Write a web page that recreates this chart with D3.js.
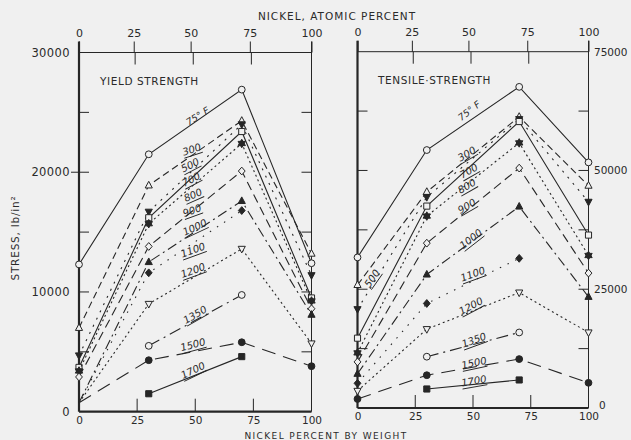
<!DOCTYPE html>
<html>
<head>
<meta charset="utf-8">
<script src="https://cdn.jsdelivr.net/npm/d3@7/dist/d3.min.js"></script>
<style>
  html, body { margin: 0; padding: 0; background: #f0f0f0; }
  svg { display: block; }
  text { font-family: "DejaVu Sans", sans-serif; fill: #2a2a2a; }
</style>
</head>
<body>
<svg id="chart" width="631" height="440"></svg>
<script>
// Copper–nickel alloys: yield and tensile strength vs. nickel content, one curve per test temperature (°F)
const nickelWeight = [0, 30, 70, 100];
const temperatures = ["75° F", "300", "500", "700", "800", "900", "1000", "1100", "1200", "1350", "1500", "1700"];

// Yield strength, lb/in², at 0, 30, 70, 100 % Ni (null = not measured)
const yieldStress = [
  [12300, 21500, 26900, 12400],
  [7000, 18900, 24300, 13200],
  [4700, 16700, 24000, 11400],
  [3700, 16200, 23400, 9500],
  [3400, 15700, 22400, 9250],
  [2900, 13800, 20100, 8600],
  [750, 12500, 17600, 8100],
  [750, 11600, 16800, null],
  [750, 9000, 13600, 5700],
  [null, 5500, 9750, null],
  [750, 4300, 5800, 3800],
  [null, 1500, 4600, null]
];
// Curves that start from the common pure-copper point without a symbol
const yieldUnmarkedStart = ["1000", "1100", "1200", "1500"];

// Tensile strength, lb/in², at 0, 30, 70, 100 % Ni
const tensileStress = [
  [31700, 54300, 67600, 51700],
  [25900, 45500, 61300, 46800],
  [20800, 44400, 60800, 43400],
  [14700, 42500, 60300, 36400],
  [11600, 40400, 55800, 32100],
  [9700, 34700, 50500, 28400],
  [7200, 28100, 42400, 23400],
  [5200, 22000, 31500, null],
  [3600, 16600, 24300, 15900],
  [null, 10800, 15900, null],
  [1900, 6900, 10300, 5300],
  [null, 4000, 5900, null]
];

const weightTicks = [0, 25, 50, 75, 100];
const atomicTicks = [0, 25, 50, 75, 100];
const yieldTickLabels = [0, 10000, 20000, 30000];
const tensileTickLabels = [0, 25000, 50000, 75000];

// ---- drawing styles per temperature ----
const markerShape = ["circle", "triUp", "triDown", "square", "star", "diamond", "triUp", "diamond", "triDown", "circle", "circle", "square"];
const markerFilled = [false, false, true, false, true, false, true, true, false, false, true, true];
const dashStyle = ["", "7,4", "2,6", "", "2,3", "9,5", "10,4,2,4", "1.5,7", "2,3", "12,5,2,5", "14,8", ""];

// label placement (nickel wt %, stress, rotation)
const yieldLabelSpots = [
  [51, 24700, -32], [48.5, 21900, -18], [47.8, 20600, -28], [48.2, 19400, -28],
  [49, 18100, -24], [48.6, 16800, -20], [49.8, 15400, -25], [49, 13500, -20],
  [49, 11800, -20], [49.9, 8100, -30], [49, 5600, -15], [49, 3450, -26]
];
const tensileLabelSpots = [
  [48.3, 62600, -38], [47.3, 53500, -30], [6.3, 27300, -55], [48.2, 49900, -30],
  [47.3, 46700, -30], [47.3, 42500, -30], [49.1, 35600, -38], [49.9, 28200, -20],
  [49.1, 21500, -28], [50.4, 14300, -20], [50.4, 9500, -12], [50.4, 5700, -10]
];

const ink = "#262626";
const paper = "#f0f0f0";
const svg = d3.select("#chart");

// atomic % Ni -> weight % Ni (Cu 63.55, Ni 58.69)
function atomicToWeight(a) {
  const ni = a * 58.69, cu = (100 - a) * 63.55;
  return ni + cu === 0 ? 0 : 100 * ni / (ni + cu);
}

function markerPath(shape, r) {
  const p = d3.path();
  if (shape === "circle") { p.arc(0, 0, r, 0, 2 * Math.PI); }
  else if (shape === "triUp") { p.moveTo(0, -r * 1.2); p.lineTo(r * 1.05, r * 0.75); p.lineTo(-r * 1.05, r * 0.75); p.closePath(); }
  else if (shape === "triDown") { p.moveTo(0, r * 1.2); p.lineTo(r * 1.05, -r * 0.75); p.lineTo(-r * 1.05, -r * 0.75); p.closePath(); }
  else if (shape === "square") { const s = r * 0.9; p.rect(-s, -s, 2 * s, 2 * s); }
  else if (shape === "diamond") { p.moveTo(0, -r * 1.15); p.lineTo(r, 0); p.lineTo(0, r * 1.15); p.lineTo(-r, 0); p.closePath(); }
  else if (shape === "star") {
    const R = r * 1.25;
    for (let k = 0; k < 2; k++) {
      for (let i = 0; i < 3; i++) {
        const a = -Math.PI / 2 + k * Math.PI + i * 2 * Math.PI / 3;
        const x = R * Math.cos(a), y = R * Math.sin(a);
        if (i === 0) p.moveTo(x, y); else p.lineTo(x, y);
      }
      p.closePath();
    }
  }
  return p.toString();
}

function drawPanel(opt) {
  const { x, y, data, labelSpots, title, titleX, tickStep, unmarked } = opt;
  const g = svg.append("g");
  const [x0, x1] = x.range();
  const [yb, yt] = y.range();

  // frame
  g.append("line").attr("x1", x0).attr("x2", x0).attr("y1", yt - 11).attr("y2", yb).attr("stroke", ink).attr("stroke-width", 2.2);
  g.append("line").attr("x1", x0).attr("x2", x1).attr("y1", yb).attr("y2", yb).attr("stroke", ink).attr("stroke-width", 2.2);
  g.append("line").attr("x1", x0).attr("x2", x1).attr("y1", yt).attr("y2", yt).attr("stroke", ink).attr("stroke-width", 1);
  g.append("line").attr("x1", x1).attr("x2", x1).attr("y1", yt - 11).attr("y2", yb).attr("stroke", ink).attr("stroke-width", 1);

  // bottom axis (weight %), ticks pointing inward
  const bottom = g.append("g").attr("transform", `translate(0,${yb})`)
    .call(d3.axisBottom(x).tickValues(weightTicks).tickSize(0).tickPadding(5).tickFormat(d3.format("d")));
  bottom.select(".domain").remove();
  bottom.selectAll("text").attr("font-size", 10.5).attr("fill", ink);
  g.selectAll(".wtick").data(weightTicks.slice(1, 4)).join("line")
    .attr("x1", d => x(d)).attr("x2", d => x(d)).attr("y1", yb).attr("y2", yb - 13)
    .attr("stroke", ink).attr("stroke-width", 1);

  // top axis: atomic % labels with outward ticks, weight % inward ticks
  const top = g.append("g").attr("transform", `translate(0,${yt})`)
    .call(d3.axisTop(x).tickValues(atomicTicks.map(atomicToWeight)).tickSize(11).tickPadding(5)
      .tickFormat((d, i) => atomicTicks[i]));
  top.select(".domain").remove();
  top.selectAll("line").attr("stroke", ink);
  top.selectAll("text").attr("font-size", 11).attr("fill", ink);
  g.selectAll(".ttick").data(weightTicks.slice(1, 4)).join("line")
    .attr("x1", d => x(d) - 2).attr("x2", d => x(d) - 2).attr("y1", yt).attr("y2", yt + 12)
    .attr("stroke", ink).attr("stroke-width", 1);

  // stress ticks on both sides, pointing inward
  const yTicks = d3.range(tickStep, y.domain()[1], tickStep);
  g.selectAll(".ltick").data(yTicks).join("line")
    .attr("x1", x0).attr("x2", x0 + 10).attr("y1", d => y(d)).attr("y2", d => y(d))
    .attr("stroke", ink).attr("stroke-width", 1);
  g.selectAll(".rtick").data(yTicks).join("line")
    .attr("x1", x1 - 10).attr("x2", x1).attr("y1", d => y(d)).attr("y2", d => y(d))
    .attr("stroke", ink).attr("stroke-width", 1);

  g.append("text").attr("x", titleX).attr("y", yt + 32).attr("font-size", 10.5)
    .attr("letter-spacing", 0.6).attr("fill", ink).text(title);

  // curves
  const line = d3.line().defined(d => d.v !== null).x(d => x(d.n)).y(d => y(d.v));
  data.forEach((row, s) => {
    const pts = nickelWeight.map((n, i) => ({ n, v: row[i] }));
    g.append("path").attr("d", line(pts)).attr("fill", "none").attr("stroke", ink)
      .attr("stroke-width", 1.1).attr("stroke-dasharray", dashStyle[s] || null);
    const marked = pts.filter((d, i) => d.v !== null && !(i === 0 && unmarked.includes(temperatures[s])));
    g.selectAll(null).data(marked).join("path")
      .attr("transform", d => `translate(${x(d.n)},${y(d.v)})`)
      .attr("d", markerPath(markerShape[s], 3.4))
      .attr("fill", markerFilled[s] ? ink : paper)
      .attr("stroke", ink).attr("stroke-width", 1);
  });

  // temperature labels
  temperatures.forEach((t, s) => {
    const [n, v, rot] = labelSpots[s];
    const lg = g.append("g").attr("transform", `translate(${x(n)},${y(v)}) rotate(${rot})`);
    lg.append("text").attr("text-anchor", "middle").attr("y", 3.5).attr("fill", ink)
      .attr("font-size", s === 0 ? 9.5 : 10).attr("font-style", "italic").text(t);
    const w = t.length * 5.8;
    if (s > 0) {
      lg.append("line").attr("x1", -w / 2 - 1).attr("x2", w / 2 + 1).attr("y1", 6).attr("y2", 6)
        .attr("stroke", ink).attr("stroke-width", 0.9);
    }
  });
  return g;
}

// Left panel: yield strength
const xL = d3.scaleLinear().domain([0, 100]).range([79, 311.5]);
const yL = d3.scaleLinear().domain([0, 30000]).range([411.7, 52.5]);
drawPanel({ x: xL, y: yL, data: yieldStress, labelSpots: yieldLabelSpots, title: "YIELD STRENGTH",
  titleX: 100, tickStep: 5000, unmarked: yieldUnmarkedStart });

// Right panel: tensile strength
const xR = d3.scaleLinear().domain([0, 100]).range([357.5, 588.5]);
const yR = d3.scaleLinear().domain([0, 75000]).range([408, 51.7]);
drawPanel({ x: xR, y: yR, data: tensileStress, labelSpots: tensileLabelSpots, title: "TENSILE·STRENGTH",
  titleX: 378, tickStep: 12500, unmarked: [] });

// stress scales
svg.selectAll(".ylab").data(yieldTickLabels).join("text")
  .attr("x", 70).attr("y", d => yL(d) + 4).attr("text-anchor", "end").attr("font-size", 11.5)
  .attr("letter-spacing", 0.4).attr("fill", ink).text(d => d);
svg.append("line").attr("x1", 71).attr("x2", 79).attr("y1", yL(20000)).attr("y2", yL(20000))
  .attr("stroke", ink).attr("stroke-width", 1);
svg.selectAll(".rlab").data(tensileTickLabels).join("text")
  .attr("x", d => d === 0 ? 599 : 594).attr("y", d => yR(d) + (d === 0 ? 1 : 4))
  .attr("text-anchor", "start").attr("font-size", 10.5)
  .attr("fill", ink).text(d => d);

// axis titles
svg.append("text").attr("x", 337).attr("y", 20).attr("text-anchor", "middle").attr("font-size", 10.5)
  .attr("letter-spacing", 1).attr("fill", ink).text("NICKEL, ATOMIC PERCENT");
svg.append("text").attr("x", 326).attr("y", 439).attr("text-anchor", "middle").attr("font-size", 9)
  .attr("letter-spacing", 1.4).attr("fill", ink).text("NICKEL  PERCENT  BY  WEIGHT");
svg.append("text").attr("transform", "translate(19,238) rotate(-90)").attr("text-anchor", "middle")
  .attr("font-size", 10.5).attr("letter-spacing", 0.8).attr("fill", ink).text("STRESS,  lb/in²");
</script>
</body>
</html>
